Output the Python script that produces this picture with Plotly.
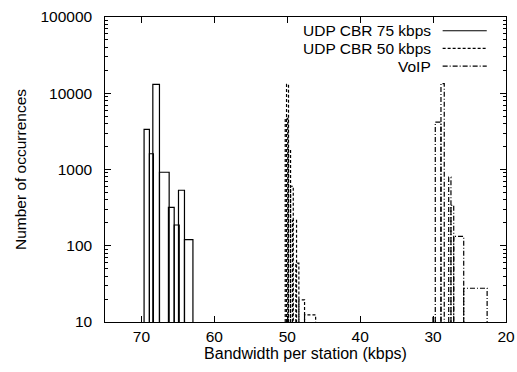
import plotly.graph_objects as go

# Histogram bins: left edge, right edge (kbps) and number of occurrences
cbr75_left = [69.64, 68.91, 68.44, 67.53, 66.30, 65.51, 64.92, 64.10]
cbr75_right = [68.91, 68.36, 67.53, 66.20, 65.51, 64.82, 64.10, 62.94]
cbr75_count = [3360, 1610, 13100, 921, 319, 187, 534, 120]

cbr50_left = [50.28, 50.10, 49.83, 49.55, 49.28, 48.82, 48.41, 47.63]
cbr50_right = [49.93, 49.83, 49.55, 49.18, 48.73, 48.41, 47.63, 46.11]
cbr50_count = [4700, 13100, 1830, 603, 215, 59, 19.5, 12.4]

voip_left = [30.02, 29.70, 28.92, 27.86, 27.55, 27.17, 25.80]
voip_right = [29.68, 28.92, 28.47, 27.55, 27.17, 25.80, 22.59]
voip_count = [11.5, 4190, 13400, 792, 339, 133, 27.7]

series_names = ["UDP CBR 75 kbps", "UDP CBR 50 kbps", "VoIP"]
y_ticks = [10, 100, 1000, 10000, 100000]
x_ticks = [70, 60, 50, 40, 30, 20]

BASE = 10  # bottom of the log axis
FONT = "Liberation Sans, Arial, Helvetica, sans-serif"
FS = 15.5


def box_outline(lefts, rights, counts):
    xs, ys = [], []
    for l, r, c in zip(lefts, rights, counts):
        xs += [l, l, r, r, None]
        ys += [BASE, c, c, BASE, None]
    return xs, ys


dashes = ["solid", "3px,2px", "5px,2px,1px,2px"]
data = [
    (cbr75_left, cbr75_right, cbr75_count),
    (cbr50_left, cbr50_right, cbr50_count),
    (voip_left, voip_right, voip_count),
]

fig = go.Figure()
for name, (l, r, c), dash in zip(series_names, data, dashes):
    xs, ys = box_outline(l, r, c)
    fig.add_trace(go.Scatter(
        x=xs, y=ys, mode="lines", name=name, showlegend=False,
        line=dict(color="black", width=1.2, dash=dash),
        connectgaps=False, cliponaxis=True,
    ))

# Key in the top-right corner: right-aligned text followed by a line sample
for i, (name, dash) in enumerate(zip(series_names, dashes)):
    yk = 0.955 - i * 0.058
    fig.add_annotation(
        x=0.817, y=yk, xref="paper", yref="paper", text=name,
        showarrow=False, xanchor="right", yanchor="middle",
        font=dict(family=FONT, size=FS, color="black"),
    )
    fig.add_shape(
        type="line", xref="paper", yref="paper",
        x0=0.842, x1=0.952, y0=yk, y1=yk,
        line=dict(color="black", width=1.2, dash=dash),
    )

axis_common = dict(
    showline=True, linecolor="black", linewidth=1.2, mirror="allticks",
    ticks="inside", tickcolor="black", tickwidth=1, ticklen=6,
    showgrid=False, zeroline=False, automargin=False,
    tickfont=dict(family=FONT, size=FS, color="black"),
)

fig.update_xaxes(
    range=[75, 20], tickvals=x_ticks, ticktext=[str(v) for v in x_ticks],
    title=dict(text="Bandwidth per station (kbps)",
               font=dict(family=FONT, size=16, color="black"), standoff=2),
    **axis_common,
)
fig.update_yaxes(
    type="log", range=[1, 5], tickvals=y_ticks,
    ticktext=[str(v) + "\u00a0\u00a0" for v in y_ticks],
    minor=dict(ticks="inside", ticklen=3, tickcolor="black", tickwidth=1,
               tick0=1, dtick="D1", showgrid=False),
    title=dict(text="Number of occurrences",
               font=dict(family=FONT, size=FS, color="black"), standoff=10),
    **axis_common,
)

fig.update_layout(
    width=517, height=372,
    margin=dict(l=105, r=11, t=17, b=50),
    paper_bgcolor="white", plot_bgcolor="white",
    showlegend=False,
)

fig.write_html("out.html")
